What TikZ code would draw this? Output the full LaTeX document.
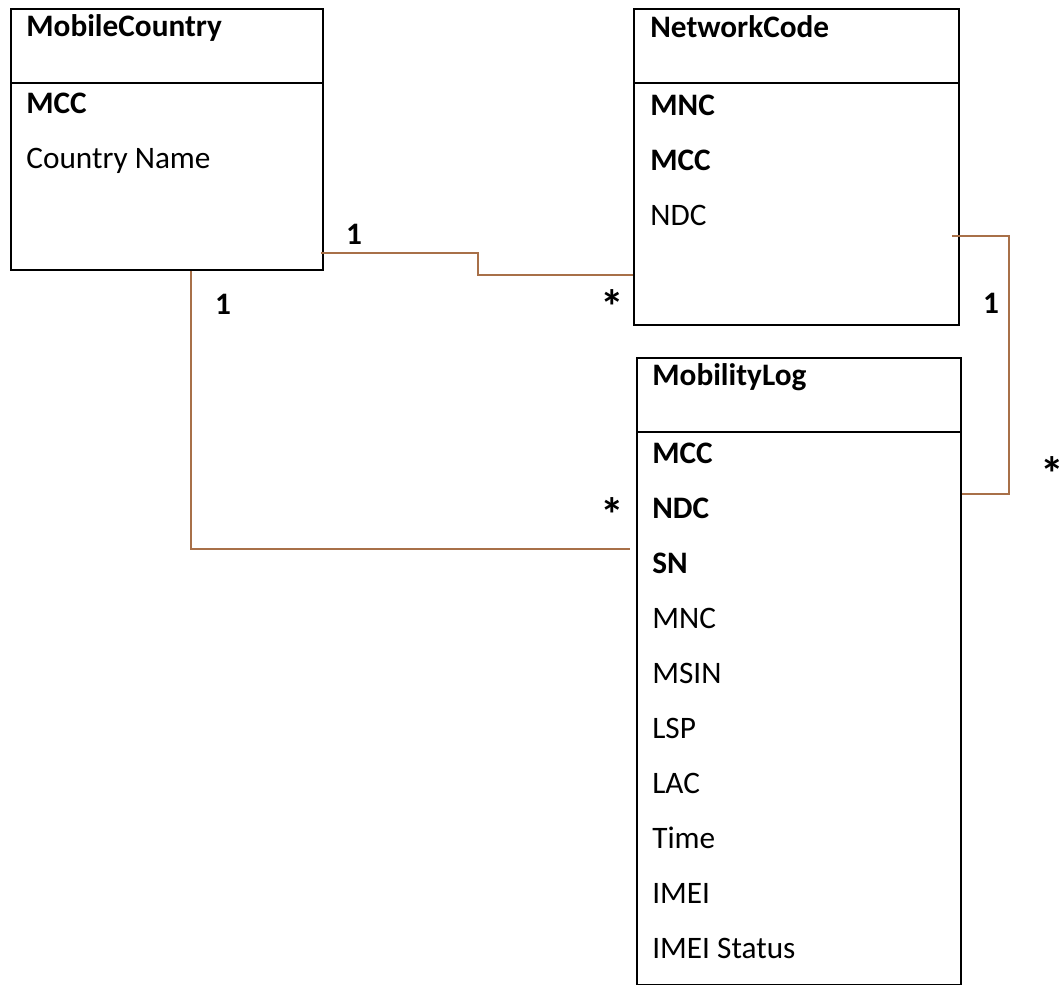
\documentclass[tikz,border=0pt]{standalone}
\usepackage{fontspec}
\setmainfont{Carlito}
\definecolor{relbrown}{RGB}{168,112,72}
\usepackage{tikz}
\usetikzlibrary{arrows,shapes}
\newcommand{\fieldfont}{\fontsize{17.8}{21}\selectfont}
\newcommand{\starfont}{\fontsize{27}{30}\selectfont}
\tikzstyle{table}=[draw,line width=1.1pt,anchor=north west,inner sep=0pt]
\tikzstyle{field}=[anchor=base west,inner sep=0pt,font=\fieldfont]
\tikzstyle{key}=[anchor=base west,inner sep=0pt,font=\fieldfont\bfseries]
\tikzstyle{mult}=[anchor=base,inner sep=0pt,font=\fieldfont\bfseries]
\tikzstyle{many}=[anchor=base,inner sep=0pt,font=\starfont\bfseries]
\tikzstyle{rel} = [draw,relbrown,line width=0.8pt]

\begin{document}
\begin{tikzpicture}[x=0.02cm,y=-0.02cm]
                    \node[table,minimum width=6.24cm,minimum height=5.22cm] (mc) at (10,8) {};
                    \node[table,minimum width=6.5cm,minimum height=6.32cm] (nc) at (633,8) {};
                    \node[table,minimum width=6.48cm,minimum height=12.54cm] (ml) at (636,357) {};

                    \draw[line width=1.1pt] (mc.north west) ++(0,75) -- ++(312,0);
                    \draw[line width=1.1pt] (nc.north west) ++(0,75) -- ++(325,0);
                    \draw[line width=1.1pt] (ml.north west) ++(0,75) -- ++(324,0);

                    \node[key] (mcName) at (26,36) {MobileCountry};
                    \node[key] (mcMCC) at (26,113) {MCC};
                    \node[field] (mcCountry) at (26,168) {Country Name};

                    \node[key] (ncName) at (650,37) {NetworkCode};
                    \node[key] (ncMNC) at (650,115) {MNC};
                    \node[key] (ncMCC) at (650,170) {MCC};
                    \node[field] (ncNDC) at (650,225) {NDC};

                    \node[key] (mlName) at (652,385) {MobilityLog};
                    \node[key] (mlMCC) at (652,463) {MCC};
                    \node[key] (mlNDC) at (652,518) {NDC};
                    \node[key] (mlSN) at (652,573) {SN};
                    \node[field] (mlMNC) at (652,628) {MNC};
                    \node[field] (mlMSIN) at (652,683) {MSIN};
                    \node[field] (mlLSP) at (652,738) {LSP};
                    \node[field] (mlLAC) at (652,793) {LAC};
                    \node[field] (mlTime) at (652,848) {Time};
                    \node[field] (mlIMEI) at (652,903) {IMEI};
                    \node[field] (mlStatus) at (652,958) {IMEI Status};

                    \path[rel] ([shift={(-3,-18)}]mc.south east) -- ++(157,0) |- ([shift={(0,-51)}]nc.south west);
                    \path[rel] ([shift={(-8,-90)}]nc.south east) -- ++(57,0) |- ([shift={(0,137)}]ml.north east);
                    \path[rel] ([shift={(181,0)}]mc.south west) |- ([shift={(-6,192)}]ml.north west);

                    \node[mult] (mc1a) at (354,244) {1};
                    \node[many] (nc1a) at (612,323) {*};
                    \node[mult] (mc1b) at (223,314) {1};
                    \node[many] (ml1a) at (612,531) {*};
                    \node[mult] (nc1b) at (991,313) {1};
                    \node[many] (ml1b) at (1052,490) {*};

                    \pgfresetboundingbox
                    \path [use as bounding box] (0,0) rectangle (1063,985);
                \end{tikzpicture}
\end{document}
